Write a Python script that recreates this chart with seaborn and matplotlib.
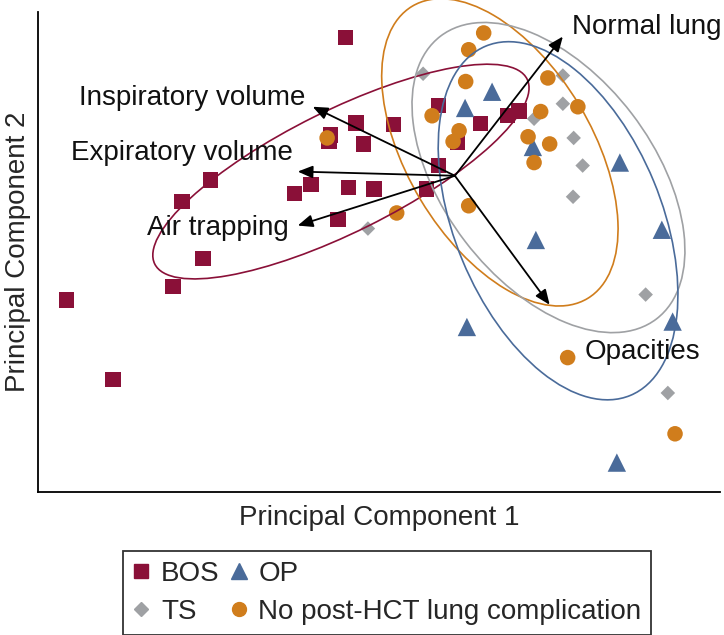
import numpy as np
import pandas as pd
import matplotlib
matplotlib.use("Agg")
import matplotlib.pyplot as plt
import seaborn as sns
from matplotlib.patches import Ellipse
from matplotlib.lines import Line2D

# PCA scores
bos_pc1 = [-1.83, -1.65, -2.07, -2.10, -1.53, -1.03, -0.27, 0.43, 0.88, 1.07, 0.05, -0.27,
           -0.47, -1.35, -1.78, -2.40, -2.67, -1.95, -4.08, -4.55, -4.20, -4.70, -6.47, -5.70]
bos_pc2 = [2.30, 0.88, 0.68, 0.57, 0.53, 0.85, 1.17, 0.87, 1.00, 1.08, 0.55, 0.17,
           -0.22, -0.22, -0.20, -0.15, -0.30, -0.73, -0.07, -0.43, -1.38, -1.85, -2.07, -3.40]
op_pc1 = [0.62, 0.17, 1.30, 2.75, 3.45, 1.35, 0.20, 3.63, 2.70]
op_pc2 = [1.40, 1.13, 0.48, 0.22, -0.90, -1.07, -2.52, -2.43, -4.78]
ts_pc1 = [-0.53, 1.80, 1.80, 1.32, 1.98, 2.13, 1.97, 3.18, -1.45, 3.55]
ts_pc2 = [1.70, 1.67, 1.20, 0.95, 0.63, 0.17, -0.35, -1.98, -0.88, -3.62]
no_pc1 = [0.48, 0.23, 0.18, 1.55, 2.05, -0.38, 1.43, 0.07, -0.03, 1.22, 1.58, 1.32,
          0.23, -0.97, -2.13, 1.88, 3.67]
no_pc2 = [2.38, 2.10, 1.57, 1.63, 1.15, 1.00, 1.07, 0.75, 0.57, 0.65, 0.53, 0.22,
          -0.50, -0.62, 0.63, -3.03, -4.30]

groups = ["BOS", "OP", "TS", "No post-HCT lung complication"]
colors = ["#8a1038", "#4a6b9a", "#9fa1a4", "#d07d1c"]
markers = ["s", "^", "D", "o"]
sizes = [120, 175, 55, 125]

# loadings (arrows) and their labels
load_names = ["Inspiratory volume", "Expiratory volume", "Air trapping", "Normal lung", "Opacities"]
load_pc1 = [-2.37, -2.62, -2.62, 1.80, 1.58]
load_pc2 = [1.15, 0.07, -0.83, 2.32, -2.15]
label_pc1 = [-2.50, -2.70, -2.77, 1.95, 2.17]
label_pc2 = [1.30, 0.38, -0.87, 2.48, -2.93]
label_ha = ["right", "right", "right", "left", "left"]

# group ellipses: center, width, height, angle
ell_x = [-1.90, 0.75, 1.56, 1.72]
ell_y = [0.07, 0.39, -0.03, -0.75]
ell_w = [6.93, 5.68, 5.93, 6.30]
ell_h = [2.03, 3.08, 3.50, 3.45]
ell_ang = [26.4, -59.0, -52.6, -67.5]
ell_group = ["BOS", "No post-HCT lung complication", "TS", "OP"]

df = pd.concat([
    pd.DataFrame({"PC1": bos_pc1, "PC2": bos_pc2, "group": "BOS"}),
    pd.DataFrame({"PC1": op_pc1, "PC2": op_pc2, "group": "OP"}),
    pd.DataFrame({"PC1": ts_pc1, "PC2": ts_pc2, "group": "TS"}),
    pd.DataFrame({"PC1": no_pc1, "PC2": no_pc2, "group": "No post-HCT lung complication"}),
], ignore_index=True)

sns.set_style("white")
plt.rcParams["font.family"] = ["Liberation Sans", "DejaVu Sans"]

fig = plt.figure(figsize=(7.24, 6.35), dpi=100)
ax = fig.add_axes([0.0525, 0.2252, 0.942, 0.756])

pal = dict(zip(groups, colors))
sns.scatterplot(data=df, x="PC1", y="PC2", hue="group", style="group", size="group",
                hue_order=groups, style_order=groups, size_order=groups,
                palette=pal, markers=dict(zip(groups, markers)), sizes=dict(zip(groups, sizes)),
                linewidth=0, legend=False, ax=ax, zorder=2)

for i in range(len(ell_x)):
    ax.add_patch(Ellipse((ell_x[i], ell_y[i]), ell_w[i], ell_h[i], angle=ell_ang[i],
                         fill=False, edgecolor=pal[ell_group[i]], lw=1.2, zorder=3,
                         clip_on=False))

for i in range(len(load_names)):
    ax.annotate("", xy=(load_pc1[i], load_pc2[i]), xytext=(0, 0),
                arrowprops=dict(arrowstyle="-|>,head_length=0.6,head_width=0.25", color="black",
                                lw=1.3, shrinkA=0, shrinkB=0, mutation_scale=15), zorder=4)
    ax.text(label_pc1[i], label_pc2[i], load_names[i], ha=label_ha[i], va="center",
            fontsize=20, color="#111111", zorder=5)

ax.set_xlim(-6.95, 4.42)
ax.set_ylim(-5.27, 2.73)
ax.set_xticks([])
ax.set_yticks([])
sns.despine(ax=ax)
for s in ["left", "bottom"]:
    ax.spines[s].set_color("black")
    ax.spines[s].set_linewidth(1.3)
ax.set_xlabel("Principal Component 1", fontsize=20)
ax.set_ylabel("Principal Component 2", fontsize=20)
ax.xaxis.set_label_coords(0.5, -0.027)
ax.yaxis.set_label_coords(-0.01, 0.5)

handles = [Line2D([], [], ls="", marker=m, color=c, markersize=ms)
           for m, c, ms in zip(markers, colors, [10.5, 12, 7.5, 10])]
order = [0, 2, 1, 3]
leg = fig.legend([handles[i] for i in order], [groups[i] for i in order], ncol=2,
                 loc="upper center", bbox_to_anchor=(0.535, 0.1323), fontsize=20,
                 frameon=True, fancybox=False, edgecolor="black", handlelength=0.6,
                 handletextpad=0.4, columnspacing=0.4, borderpad=0.35, labelspacing=0.45,
                 borderaxespad=0)
leg.get_frame().set_linewidth(1.3)

fig.savefig("out.png", dpi=100)
